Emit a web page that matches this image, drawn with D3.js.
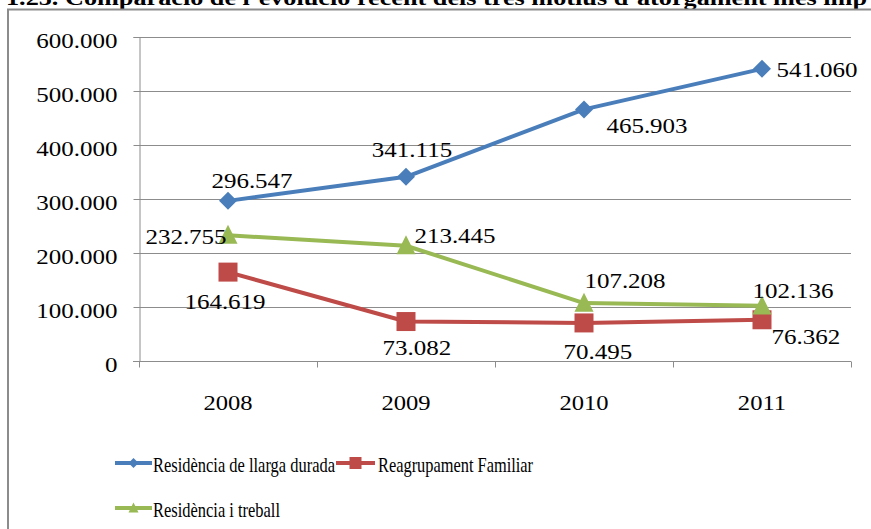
<!DOCTYPE html>
<html>
<head>
<meta charset="utf-8">
<script src="https://cdn.jsdelivr.net/npm/d3@7"></script>
<style>
  body { margin: 0; background: #fff; }
  svg { display: block; }
  text { font-family: "Liberation Serif", "Times New Roman", serif; fill: #000; }
</style>
</head>
<body>
<svg id="chart" width="871" height="529"></svg>
<script>
// values
var years = ['2008', '2009', '2010', '2011']
var llargaDurada = [296547, 341115, 465903, 541060]
var reagrupament = [164619, 73082, 70495, 76362]
var treball = [232755, 213445, 107208, 102136]
var yTicks = [0, 100000, 200000, 300000, 400000, 500000, 600000]
var seriesNames = ['Residència de llarga durada', 'Reagrupament Familiar', 'Residència i treball']
var titleText = "1.25. Comparació de l’evolució recent dels tres motius d’atorgament més imp"

// label offsets (dx, dy from the point to the label centre / baseline), hand placed like in the original
var labelOffsets = [
  [[24, -13], [6, -20], [63, 24], [55, 8]],
  [[-3, 37], [11, 33], [14, 36], [44, 24]],
  [[-42, 9], [49, -3], [41, -15], [31, -8]]
]

var series = [
  { name: seriesNames[0], values: llargaDurada, color: '#4a7ebb', marker: 'diamond' },
  { name: seriesNames[1], values: reagrupament, color: '#be4b48', marker: 'square' },
  { name: seriesNames[2], values: treball, color: '#98b954', marker: 'triangle' }
]

var margin = { left: 139, right: 851, top: 37, bottom: 361 }
var svg = d3.select('#chart')

var fmt = function(v) { return d3.format(',')(v).replace(/,/g, '.') }

// stretch text horizontally (the original picture is slightly squashed / widened)
function stretch(sel, k) {
  sel.each(function() {
    var w = this.getComputedTextLength()
    d3.select(this).attr('textLength', w * k).attr('lengthAdjust', 'spacingAndGlyphs')
  })
}

// title, cut by the top edge
svg.append('text')
    .attr('x', 6).attr('y', 5)
    .style('font-size', '20px').style('font-weight', 'bold')
    .attr('textLength', 861).attr('lengthAdjust', 'spacingAndGlyphs')
    .text(titleText)

// chart frame
svg.append('rect')
    .attr('x', 8).attr('y', 9.5)
    .attr('width', 880).attr('height', 540)
    .attr('fill', 'none').attr('stroke', '#8c8c8c').attr('stroke-width', 2)

var x = d3.scaleBand().domain(years).range([margin.left, margin.right])
var y = d3.scaleLinear().domain([0, 600000]).range([margin.bottom, margin.top])

// gridlines
svg.append('g').selectAll('line')
    .data(yTicks.filter(function(d) { return d > 0 }))
    .enter().append('line')
        .attr('x1', margin.left).attr('x2', margin.right)
        .attr('y1', function(d) { return Math.round(y(d)) + 0.5 })
        .attr('y2', function(d) { return Math.round(y(d)) + 0.5 })
        .attr('stroke', '#8c8c8c').attr('stroke-width', 1)

// y axis
var yAxis = svg.append('g')
    .attr('transform', 'translate(' + (margin.left + 0.5) + ',0)')
    .call(d3.axisLeft(y).tickValues(yTicks).tickFormat(fmt).tickSize(6).tickPadding(16))
yAxis.selectAll('.domain, line').attr('stroke', '#8c8c8c')
yAxis.selectAll('text')
    .style('font-size', '21px').attr('dy', '0.5em')
    .style('font-family', '"Liberation Serif", serif')
stretch(yAxis.selectAll('text'), 1.19)

// x axis: ticks between categories
var xAxis = svg.append('g')
    .attr('transform', 'translate(0,' + (Math.round(y(0)) + 0.5) + ')')
xAxis.append('line')
    .attr('x1', margin.left - 6).attr('x2', margin.right)
    .attr('stroke', '#8c8c8c')
xAxis.selectAll('.xtick')
    .data(years.concat(['end']))
    .enter().append('line')
        .attr('class', 'xtick')
        .attr('x1', function(d, i) { return Math.round(margin.left + i * x.bandwidth()) + 0.5 })
        .attr('x2', function(d, i) { return Math.round(margin.left + i * x.bandwidth()) + 0.5 })
        .attr('y1', 0).attr('y2', 6)
        .attr('stroke', '#8c8c8c')
var yearLabels = xAxis.selectAll('.xlabel')
    .data(years)
    .enter().append('text')
        .attr('class', 'xlabel')
        .attr('x', function(d) { return x(d) + x.bandwidth() / 2 })
        .attr('y', 48)
        .attr('text-anchor', 'middle')
        .style('font-size', '21px')
        .text(function(d) { return d })
stretch(yearLabels, 1.17)

function markerPath(type, s) {
  if (type == 'diamond') return 'M0,' + (-s) + 'L' + s + ',0L0,' + s + 'L' + (-s) + ',0Z'
  if (type == 'square') return 'M' + (-s) + ',' + (-s) + 'H' + s + 'V' + s + 'H' + (-s) + 'Z'
  return 'M0,' + (-s * 1.1) + 'L' + s + ',' + (s * 0.9) + 'L' + (-s) + ',' + (s * 0.9) + 'Z'
}
var markerSize = { diamond: 9, square: 9.5, triangle: 9.5 }

var line = d3.line()
    .x(function(d, i) { return x(years[i]) + x.bandwidth() / 2 })
    .y(function(d) { return y(d) })

var plot = svg.append('g')
// draw lines in Excel order: first series at the bottom
series.forEach(function(s) {
  plot.append('path')
      .attr('d', line(s.values))
      .attr('fill', 'none')
      .attr('stroke', s.color).attr('stroke-width', 4)
      .attr('stroke-linejoin', 'round')
  plot.selectAll(null)
      .data(s.values)
      .enter().append('path')
          .attr('d', markerPath(s.marker, markerSize[s.marker]))
          .attr('transform', function(d, i) {
            return 'translate(' + (x(years[i]) + x.bandwidth() / 2) + ',' + y(d) + ')'
          })
          .attr('fill', s.color)
})

// data labels
series.forEach(function(s, si) {
  var labels = plot.selectAll(null)
      .data(s.values)
      .enter().append('text')
          .attr('x', function(d, i) { return x(years[i]) + x.bandwidth() / 2 + labelOffsets[si][i][0] })
          .attr('y', function(d, i) { return y(d) + labelOffsets[si][i][1] })
          .attr('text-anchor', 'middle')
          .style('font-size', '21px')
          .text(fmt)
  stretch(labels, 1.19)
})

// legend
var legendRows = [
  { s: series[0], x: 115, y: 463, tx: 153, tw: 182, lw: 37 },
  { s: series[1], x: 336, y: 463, tx: 378, tw: 155, lw: 39 },
  { s: series[2], x: 115, y: 508, tx: 153, tw: 127, lw: 37 }
]
var legend = svg.append('g')
legendRows.forEach(function(r) {
  legend.append('line')
      .attr('x1', r.x).attr('x2', r.x + r.lw)
      .attr('y1', r.y).attr('y2', r.y)
      .attr('stroke', r.s.color).attr('stroke-width', 4)
  legend.append('path')
      .attr('d', markerPath(r.s.marker, r.s.marker == 'square' ? 6 : 5))
      .attr('transform', 'translate(' + (r.x + r.lw / 2) + ',' + r.y + ')')
      .attr('fill', r.s.color)
  legend.append('text')
      .attr('x', r.tx).attr('y', r.y + 9)
      .style('font-size', '21px')
      .attr('textLength', r.tw).attr('lengthAdjust', 'spacingAndGlyphs')
      .text(r.s.name)
})
</script>
</body>
</html>
